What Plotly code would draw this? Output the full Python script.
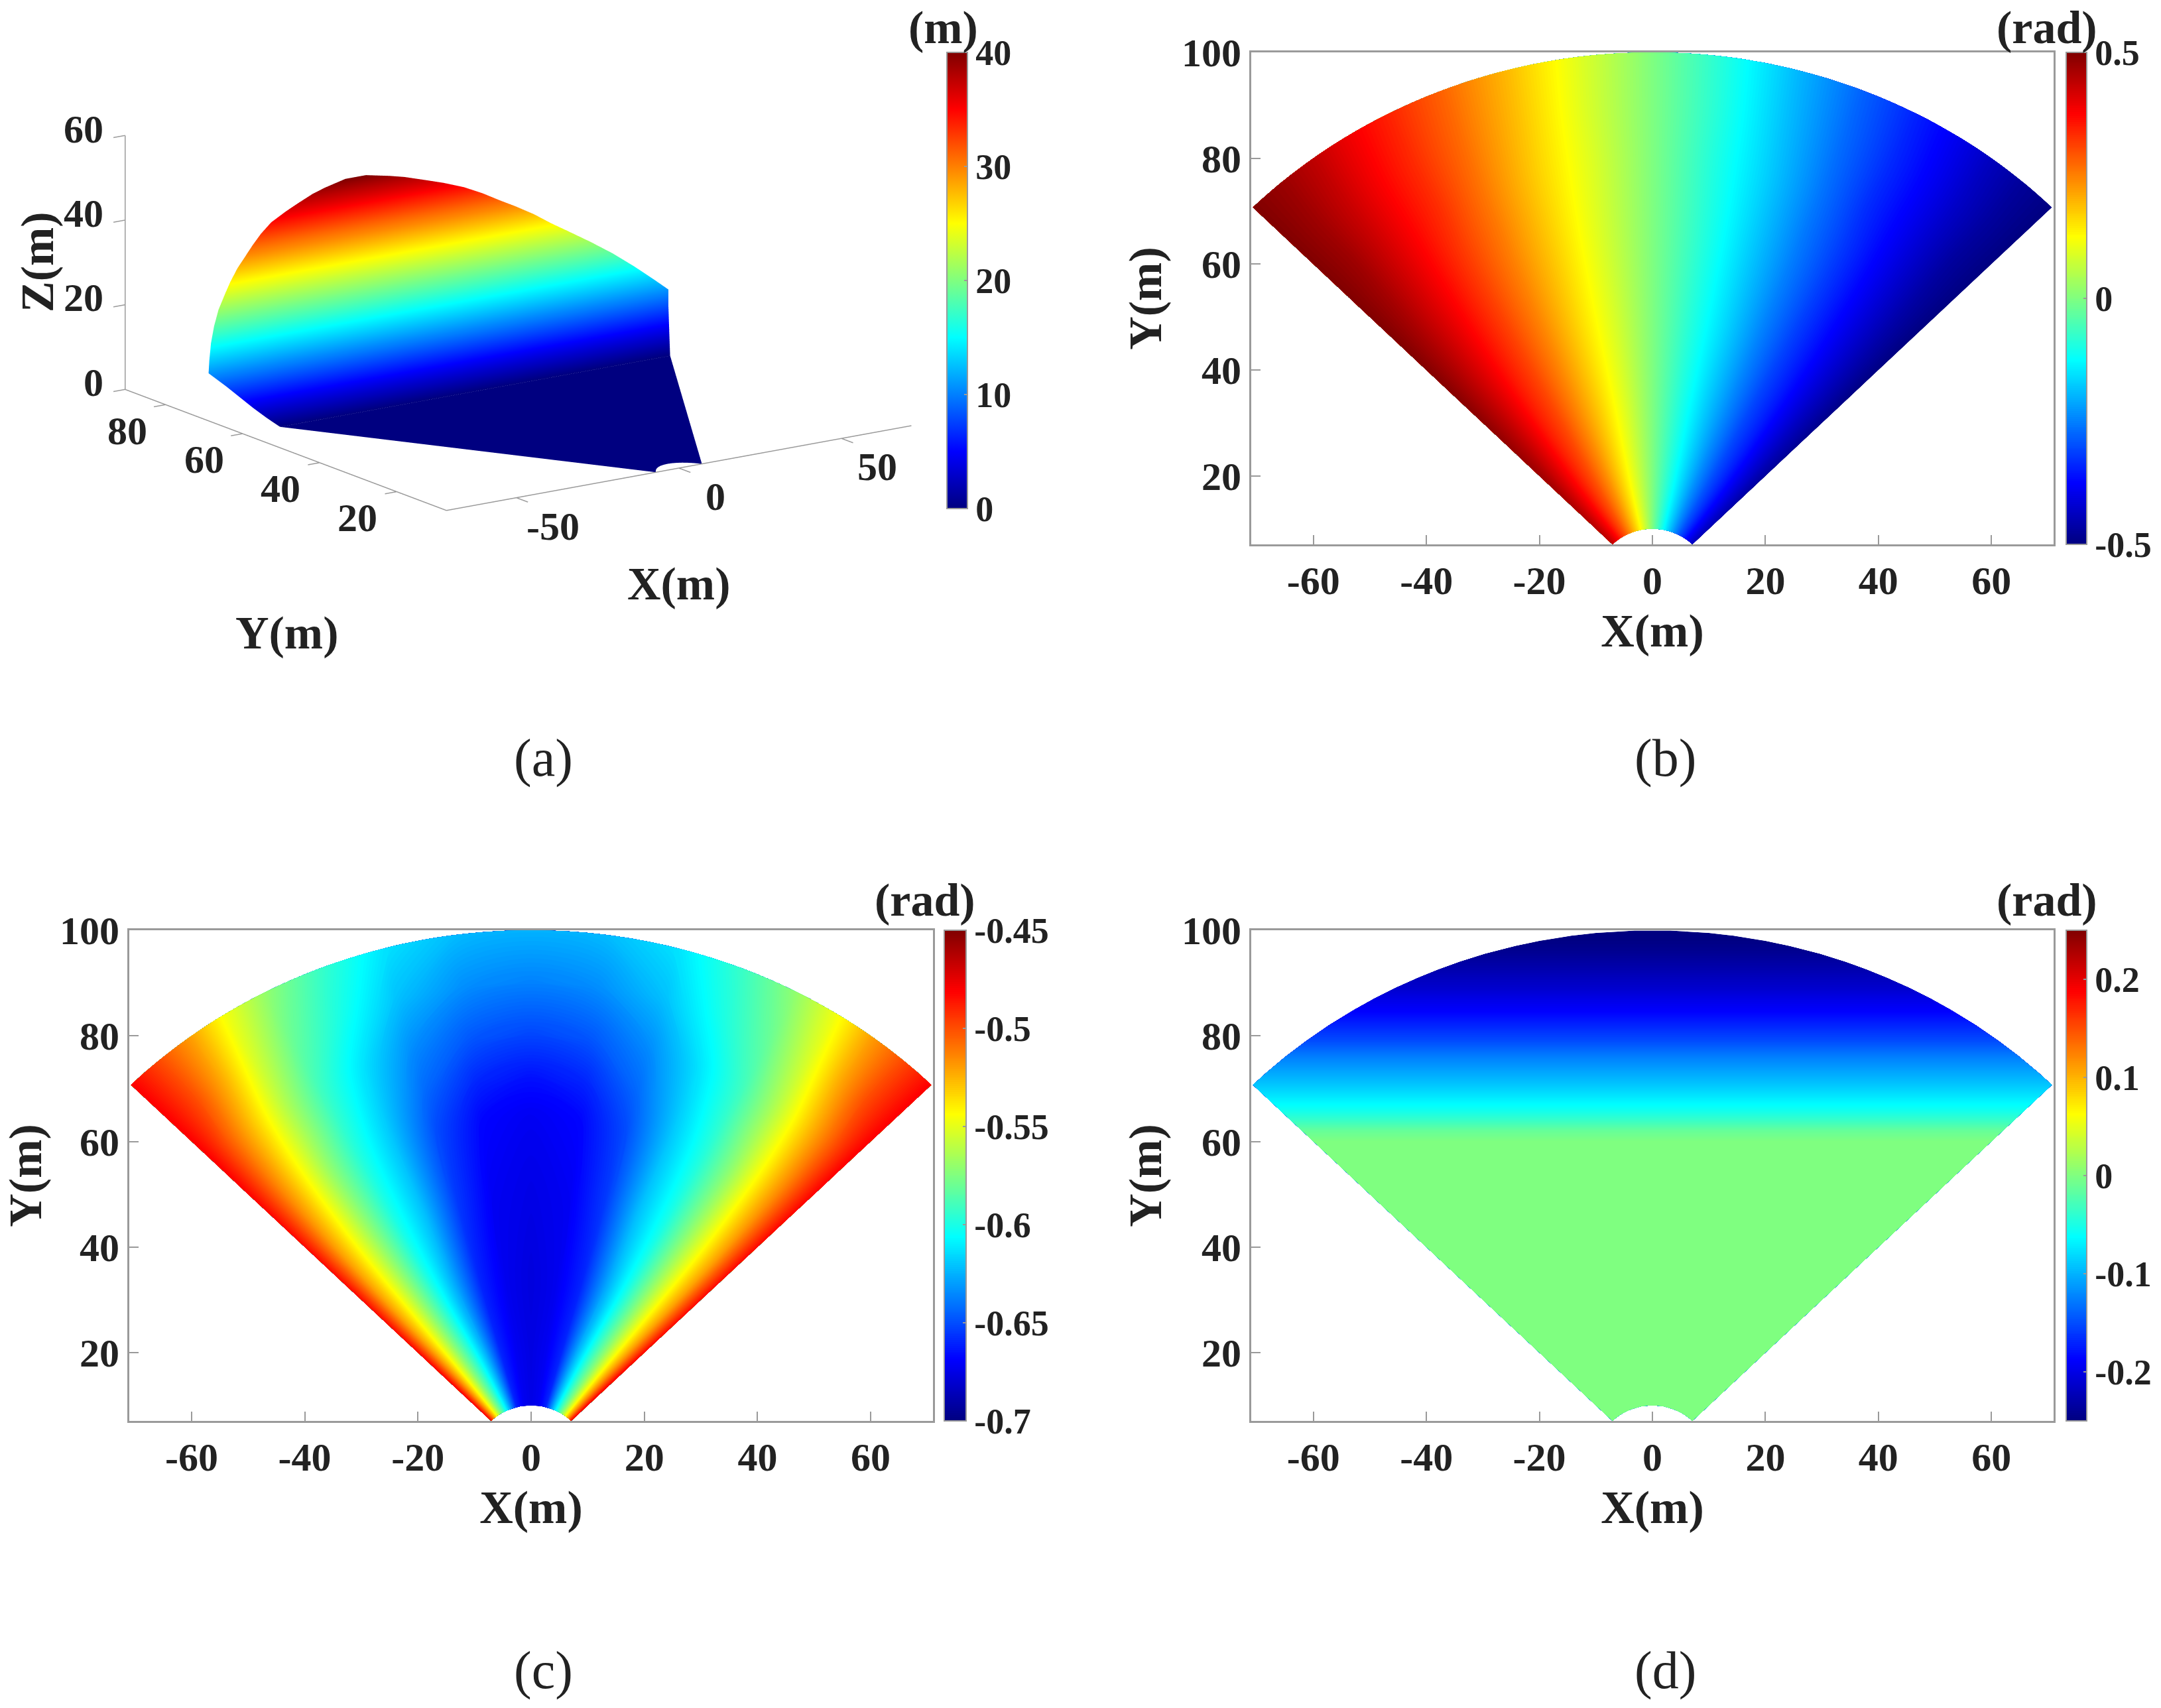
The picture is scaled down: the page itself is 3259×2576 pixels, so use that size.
import math
import plotly.graph_objects as go

W, H = 3259, 2576

# ---- data ----
JET = [[0, "#000080"], [0.125, "#0000ff"], [0.375, "#00ffff"],
       [0.625, "#ffff00"], [0.875, "#ff0000"], [1, "#800000"]]

# angle off the Y axis (degrees), centre to edge; panels (b) and (c) mirror about it
THETA_HALF = [0, 7.5, 15, 22, 28, 33, 37, 41, 45]
RANGE_M = [10, 20, 35, 50, 65, 72, 80, 90, 100]

PANEL_B_HALF = [
    [0, .08, .16, .23, .29, .335, .375, .41, .44],
    [0, .08, .16, .235, .295, .34, .38, .42, .46],
    [0, .085, .165, .24, .305, .35, .395, .44, .48],
    [0, .085, .165, .245, .31, .36, .405, .45, .495],
    [0, .085, .17, .25, .315, .37, .415, .46, .50],
    [0, .087, .172, .255, .32, .375, .42, .465, .50],
    [0, .09, .175, .26, .33, .38, .425, .47, .50],
    [0, .09, .185, .27, .335, .385, .43, .47, .50],
    [0, .095, .195, .28, .345, .395, .44, .475, .50],
]
PANEL_C_HALF = [
    [-.675, -.672, -.66, -.625, -.595, -.57, -.545, -.515, -.48],
    [-.676, -.672, -.66, -.625, -.595, -.57, -.545, -.515, -.48],
    [-.677, -.673, -.66, -.628, -.60, -.572, -.547, -.52, -.483],
    [-.675, -.672, -.655, -.622, -.60, -.572, -.547, -.52, -.483],
    [-.672, -.668, -.65, -.62, -.597, -.57, -.543, -.515, -.482],
    [-.665, -.66, -.643, -.617, -.594, -.566, -.54, -.512, -.481],
    [-.652, -.648, -.635, -.612, -.59, -.562, -.535, -.508, -.48],
    [-.637, -.634, -.622, -.60, -.58, -.553, -.525, -.50, -.48],
    [-.625, -.623, -.613, -.592, -.57, -.545, -.52, -.50, -.48],
]
# rows of constant Y in the top views (the first row is the inner arc)
Y_ROWS = [10, 30, 50, 60, 62, 64, 66, 68, 70.71, 73, 76, 79, 82, 85, 87, 89, 91, 92.5, 94,
          95.5, 97, 98, 99, 99.5, 99.95]
PANEL_D = [0, 0, 0, 0, -.012, -.035, -.055, -.07, -.09, -.105, -.125, -.15, -.17, -.19,
           -.2, -.212, -.22, -.227, -.233, -.24, -.245, -.248, -.25, -.25, -.25]
# the same rows as they sit in the 3D view of panel (a)
PANEL_A_Y = [10, 30, 50, 60, 61.8, 63.6, 65.4, 67.2, 69.5, 71.3, 73.7, 76, 78.3, 80.4, 81.9,
             83.2, 84.5, 85.7, 86.8, 87.9, 88.7, 89.4, 90.2, 90.6, 91]
PANEL_A_Z = [0, 0, 0, 0, 1.8, 3.8, 6, 8.2, 10.9, 13, 15.8, 18.5, 21, 23.5, 25.3, 27.5, 29.5,
             31, 32.8, 34.5, 36, 37, 38.3, 39, 40]

X_TICKS_2D = [-60, -40, -20, 0, 20, 40, 60]
Y_TICKS_2D = [20, 40, 60, 80, 100]
X_TICKS_3D = [-50, 0, 50]
Y_TICKS_3D = [20, 40, 60, 80]
Z_TICKS_3D = [0, 20, 40, 60]
CB_A = [0, 10, 20, 30, 40]
CB_B = [-0.5, 0, 0.5]
CB_C = [-0.7, -0.65, -0.6, -0.55, -0.5, -0.45]
CB_D = [-0.2, -0.1, 0, 0.1, 0.2]

# ---- styling ----
SERIF = "Liberation Serif"
INK = "#222222"
GREY = "#9a9a9a"
TICK_SIZE = 60
TITLE_SIZE = 70
CB_SIZE = 54
R_IN, R_OUT, HALF = 10.0, 100.0, 45.0

THETA_DEG = [-t for t in THETA_HALF[:0:-1]] + THETA_HALF


def font(size):
    return dict(family=SERIF, size=size, color=INK, weight="bold")


def px_x(p):
    return p / W


def px_y(p):
    return 1 - p / H


def polar_grid():
    xs = [[r * math.sin(math.radians(t)) for r in RANGE_M] for t in THETA_DEG]
    ys = [[r * math.cos(math.radians(t)) for r in RANGE_M] for t in THETA_DEG]
    return xs, ys


def row_grid(y_values):
    """rows across the sector; first row follows the inner arc"""
    xs, ys = [], []
    for t in THETA_DEG:
        cx, cy = [], []
        for i, y in enumerate(Y_ROWS):
            if i == 0:
                cx.append(R_IN * math.sin(math.radians(t)))
                cy.append(R_IN * math.cos(math.radians(t)))
            else:
                hw = y if y <= 70.71 else math.sqrt(R_OUT ** 2 - y ** 2)
                cx.append(hw * t / HALF)
                cy.append(y_values[i])
        xs.append(cx)
        ys.append(cy)
    return xs, ys


def mirrored(half_rows, left, right):
    """[theta][range] table from range rows given centre-to-edge"""
    full = [[left * v for v in row[:0:-1]] + [row[0]] + [right * v for v in row[1:]] for row in half_rows]
    return [list(c) for c in zip(*full)]


fig = go.Figure()


def colorbar(ticks, x0, x1, y0, y1):
    return dict(
        x=px_x(x0), xanchor="left", xref="paper", xpad=0,
        y=px_y(y0), yanchor="top", yref="paper", ypad=0,
        len=y1 - y0, lenmode="pixels", thickness=x1 - x0, thicknessmode="pixels",
        outlinecolor=GREY, outlinewidth=2,
        tickvals=ticks, ticktext=[str(t) for t in ticks],
        tickfont=font(CB_SIZE), ticks="inside", ticklen=6, tickcolor=GREY, tickwidth=2,
    )


def sector_panel(name, ax_suffix, dom, xs, ys, z, avals, zmin, zmax, cb):
    x0, x1, y0, y1 = dom
    fig.add_trace(go.Carpet(
        carpet=name, a=avals, b=THETA_DEG, x=xs, y=ys,
        aaxis=dict(showgrid=False, showline=False, showticklabels="none", startline=False,
                   endline=False, minorgridcount=0, smoothing=0, cheatertype="value"),
        baxis=dict(showgrid=False, showline=False, showticklabels="none", startline=False,
                   endline=False, minorgridcount=0, smoothing=1, cheatertype="value"),
        xaxis="x" + ax_suffix, yaxis="y" + ax_suffix,
    ))
    fig.add_trace(go.Contourcarpet(
        carpet=name, a=avals, b=THETA_DEG, z=z,
        colorscale=JET, zmin=zmin, zmax=zmax, autocontour=False,
        contours=dict(start=zmin, end=zmax, size=(zmax - zmin) / 255, coloring="fill", showlines=False),
        line=dict(width=0), colorbar=cb,
        xaxis="x" + ax_suffix, yaxis="y" + ax_suffix,
    ))
    common = dict(showline=True, linecolor=GREY, linewidth=3, mirror=True, ticks="inside",
                  ticklen=14, tickcolor=GREY, tickwidth=2, showgrid=False, zeroline=False,
                  tickfont=font(TICK_SIZE), automargin=False)
    fig.update_layout(**{
        "xaxis" + ax_suffix: dict(
            domain=[px_x(x0), px_x(x1)], range=[-71, 71], anchor="y" + ax_suffix,
            tickvals=X_TICKS_2D, ticktext=[str(t) for t in X_TICKS_2D],
            title=dict(text="X(m)", font=font(TITLE_SIZE), standoff=18), **common),
        "yaxis" + ax_suffix: dict(
            domain=[px_y(y1), px_y(y0)], range=[7.07, 100], anchor="x" + ax_suffix,
            tickvals=Y_TICKS_2D, ticktext=[str(t) for t in Y_TICKS_2D],
            title=dict(text="Y(m)", font=font(TITLE_SIZE), standoff=8), **common),
    })


px_polar, py_polar = polar_grid()
px_rows, py_rows = row_grid(Y_ROWS)
ax_rows, ay_rows = row_grid(PANEL_A_Y)

sector_panel("b", "2", (1887, 3097, 79, 821), px_polar, py_polar, mirrored(PANEL_B_HALF, 1, -1),
             RANGE_M, -0.5, 0.5, colorbar(CB_B, 3116, 3147, 79, 821))
sector_panel("c", "3", (195, 1407, 1403, 2143), px_polar, py_polar, mirrored(PANEL_C_HALF, 1, 1),
             RANGE_M, -0.7, -0.45, colorbar(CB_C, 1424, 1457, 1403, 2143))
d_z = [list(PANEL_D) for _ in THETA_DEG]
sector_panel("d", "4", (1887, 3097, 1403, 2143), px_rows, py_rows, d_z, list(range(len(Y_ROWS))), -0.25, 0.25,
             colorbar(CB_D, 3116, 3147, 1403, 2143))

# ---- panel (a): orthographic 3D scene ----
a_z = [list(PANEL_A_Z) for _ in THETA_DEG]
fig.add_trace(go.Surface(
    x=ax_rows, y=ay_rows, z=a_z, surfacecolor=a_z,
    colorscale=JET, cmin=0, cmax=40, colorbar=colorbar(CB_A, 1428, 1459, 79, 767),
    lighting=dict(ambient=1, diffuse=0, specular=0, roughness=1, fresnel=0),
    contours=dict(x=dict(highlight=False), y=dict(highlight=False), z=dict(highlight=False)),
    hoverinfo="skip", scene="scene",
))

AX_X = (-71.5, 71.5)
AX_Y = (7.07, 90.5)
AX_Z = (0, 60)
TL_X, TL_Y = 3.0, 3.6


def seg(xa, ya, za, xb, yb, zb):
    fig.add_trace(go.Scatter3d(x=[xa, xb], y=[ya, yb], z=[za, zb], mode="lines",
                               line=dict(color=GREY, width=3), hoverinfo="skip",
                               showlegend=False, scene="scene"))


seg(AX_X[0], AX_Y[0], 0, AX_X[1], AX_Y[0], 0)
seg(AX_X[0], AX_Y[0], 0, AX_X[0], AX_Y[1], 0)
seg(AX_X[0], AX_Y[1], 0, AX_X[0], AX_Y[1], AX_Z[1])
for t in X_TICKS_3D:
    seg(t, AX_Y[0], 0, t, AX_Y[0] - TL_X, 0)
for t in Y_TICKS_3D:
    seg(AX_X[0], t, 0, AX_X[0] - TL_Y, t, 0)
for t in Z_TICKS_3D:
    seg(AX_X[0], AX_Y[1], t, AX_X[0] - TL_Y, AX_Y[1], t)

RX, RY, RZ = (-76, 72), (3, 100), (0, 60)
EYE_R = 4
BOX = 2.21
hidden = dict(visible=False, showgrid=False, showbackground=False, zeroline=False)
fig.update_layout(scene=dict(
    domain=dict(x=[px_x(55.7), px_x(1455.7)], y=[px_y(818.6), px_y(18.6)]),
    xaxis=dict(range=RX, **hidden), yaxis=dict(range=RY, **hidden), zaxis=dict(range=RZ, **hidden),
    aspectmode="manual", aspectratio=dict(x=1 * BOX, y=1.116 * BOX, z=0.449 * BOX),
    camera=dict(projection=dict(type="orthographic"), center=dict(x=0, y=0, z=0),
                up=dict(x=0, y=0, z=1),
                eye=dict(x=-0.551 * EYE_R, y=-0.792 * EYE_R, z=0.262 * EYE_R)),
))


# affine of the 3D view, used to seat its text labels
def proj(x, y, z):
    sx = 492 + 2.35 * x - 2.78 * (y - 7.07)
    sy = 339 - 0.43 * x - 1.05 * (y - 7.07) - 3.06 * z
    return sx * W / 1568, sy * H / 1239


def text(x, y, s, size, textangle=0, bold=True, xanchor="center"):
    f = font(size) if bold else dict(family=SERIF, size=size, color=INK)
    return dict(x=px_x(x), y=px_y(y), xref="paper", yref="paper", text=s, showarrow=False,
                font=f, xanchor=xanchor, yanchor="middle", textangle=textangle)


notes = [
    text(1422, 42, "(m)", TITLE_SIZE), text(3087, 42, "(rad)", TITLE_SIZE),
    text(1395, 1357, "(rad)", TITLE_SIZE), text(3087, 1357, "(rad)", TITLE_SIZE),
    text(819, 1143, "(a)", 80, bold=False), text(2511, 1143, "(b)", 80, bold=False),
    text(819, 2519, "(c)", 80, bold=False), text(2511, 2519, "(d)", 80, bold=False),
    text(56, 395, "Z(m)", TITLE_SIZE, textangle=-90),
    text(432, 954, "Y(m)", TITLE_SIZE), text(1023, 881, "X(m)", TITLE_SIZE),
]
for t in X_TICKS_3D:
    sx, sy = proj(t, AX_Y[0], 0)
    notes.append(text(sx + 56, sy + 44, str(t), TICK_SIZE))
for t in Y_TICKS_3D:
    sx, sy = proj(AX_X[0], t, 0)
    notes.append(text(sx - 60, sy + 40, str(t), TICK_SIZE))
for t in Z_TICKS_3D:
    sx, sy = proj(AX_X[0], AX_Y[1], t)
    notes.append(text(sx - 33, sy - 10, str(t), TICK_SIZE, xanchor="right"))

fig.update_layout(
    width=W, height=H, margin=dict(l=0, r=0, t=0, b=0),
    paper_bgcolor="white", plot_bgcolor="white", showlegend=False,
    annotations=notes, font=dict(family=SERIF),
)

POST = ("document.body.style.margin='0';"
        "var s=document.createElement('style');"
        "s.textContent='.contourfill path,.contourbg path{shape-rendering:geometricPrecision !important}';"
        "document.head.appendChild(s);")
fig.write_html("out.html", config=dict(displayModeBar=False), post_script=POST)
